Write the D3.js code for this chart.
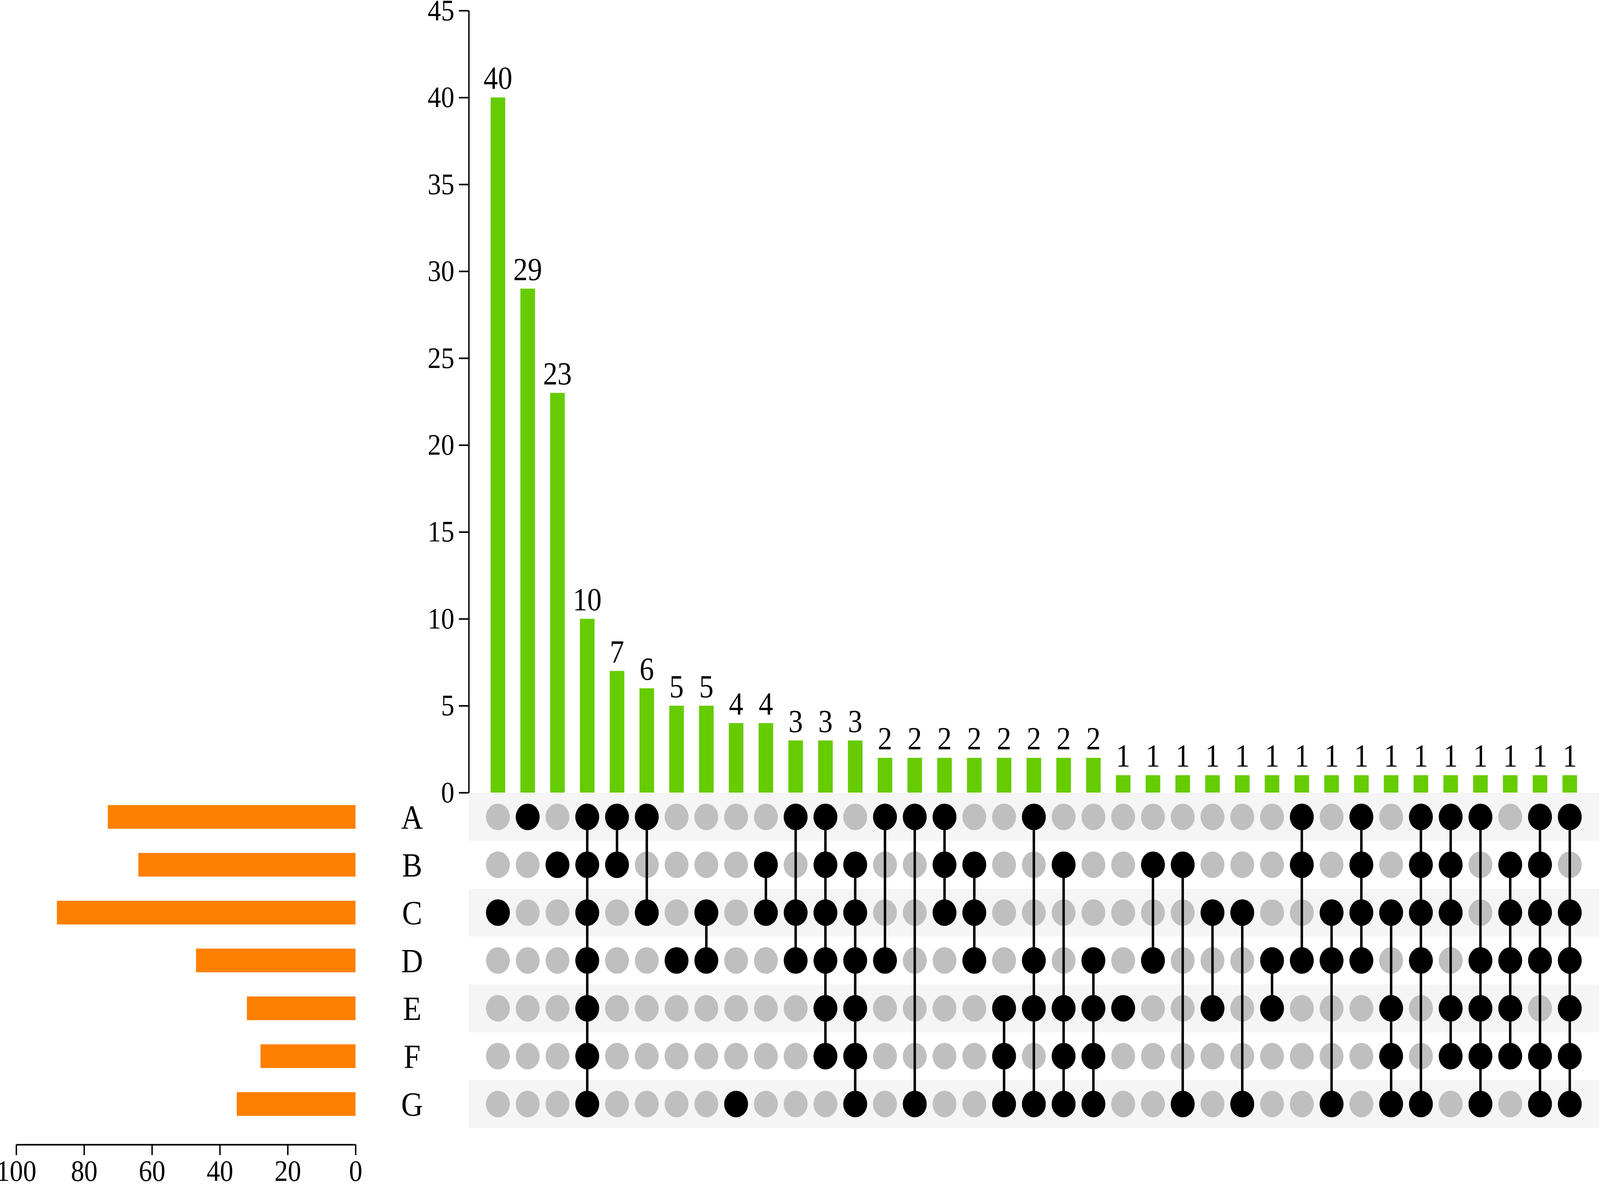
<!DOCTYPE html>
<html>
<head>
<meta charset="utf-8">
<script src="https://cdn.jsdelivr.net/npm/d3@7"></script>
<style>
  html, body { margin: 0; padding: 0; background: #fff; overflow: hidden; }
  svg { display: block; width: 100vw; height: 100vh; }
  text { font-family: "Liberation Serif", "Times New Roman", serif; fill: #000; }
</style>
</head>
<body>
<svg viewBox="0 0 4550 3031" preserveAspectRatio="none"></svg>
<script>
var svg = d3.select("svg");

// set names and their sizes (left bars)
var sets = ["A", "B", "C", "D", "E", "F", "G"];
var setSizes = [73, 64, 88, 47, 32, 28, 35];

// intersection sizes (top bars), left to right
var counts = [40, 29, 23, 10, 7, 6, 5, 5, 4, 4, 3, 3, 3,
              2, 2, 2, 2, 2, 2, 2, 2,
              1, 1, 1, 1, 1, 1, 1, 1, 1, 1, 1, 1, 1, 1, 1, 1];

// which sets take part in each intersection
var members = ["C", "A", "B", "ABCDEFG", "AB", "AC", "D", "CD", "G", "BC", "ACD", "ABCDEF", "BCDEFG",
               "AD", "AG", "ABC", "BCD", "EFG", "ADEG", "BEFG", "DEFG",
               "E", "BD", "BG", "CE", "CG", "DE", "ABD", "CDG", "ABCD", "CEFG", "ABCDG", "ABCEF",
               "ADEFG", "BCDEF", "ABCDFG", "ACDEFG"];

var yTicks = [0, 5, 10, 15, 20, 25, 30, 35, 40, 45];
var sizeTicks = [0, 20, 40, 60, 80, 100];

var green = "#66cc00";
var orange = "#ff7f00";
var dotOff = "#bfbfbf";
var stripe = "#f5f5f5";

var cols = d3.range(counts.length);

var x = d3.scaleBand()
    .domain(cols)
    .range([1333, 4547])
    .paddingInner(0)
    .paddingOuter(0.48);

var rowY = d3.scaleBand()
    .domain(sets)
    .range([2030, 2887.5]);

var y = d3.scaleLinear()
    .domain([0, 45])
    .range([2029, 27]);

var sx = d3.scaleLinear()
    .domain([0, 100])
    .range([1011, 46]);

function cx(i) { return x(i) + x.bandwidth() / 2; }
function cy(s) { return rowY(s) + rowY.bandwidth() / 2; }

// matrix background stripes
svg.append("g")
   .selectAll("rect")
   .data(sets.filter(function(s, i) { return i % 2 == 0; }))
   .enter()
   .append("rect")
   .attr("x", 1333)
   .attr("y", function(d) { return rowY(d); })
   .attr("width", 4547 - 1333)
   .attr("height", rowY.bandwidth())
   .attr("fill", stripe);

// intersection bars
var barW = x.bandwidth() * 0.49;
svg.append("g")
   .selectAll("rect")
   .data(cols)
   .enter()
   .append("rect")
   .attr("x", function(i) { return cx(i) - barW / 2; })
   .attr("y", function(i) { return y(counts[i]); })
   .attr("width", barW)
   .attr("height", function(i) { return y(0) - y(counts[i]); })
   .attr("fill", green);

svg.append("g")
   .selectAll("text")
   .data(cols)
   .enter()
   .append("text")
   .attr("x", function(i) { return cx(i); })
   .attr("y", function(i) { return y(counts[i]) - 22; })
   .attr("text-anchor", "middle")
   .style("font-size", "82px")
   .text(function(i) { return counts[i]; });

// y axis
var yAxis = svg.append("g")
   .attr("transform", "translate(1333,0)")
   .call(d3.axisLeft(y).tickValues(yTicks).tickSize(28).tickSizeOuter(0).tickPadding(13));
yAxis.selectAll("path, line").attr("stroke-width", 4);
yAxis.selectAll("text").style("font-size", "76px").style("font-family", "Liberation Serif, serif");

// dots: empty ones first, then connecting lines, then filled ones
var cells = [];
cols.forEach(function(i) {
    sets.forEach(function(s) {
        cells.push({col: i, set: s, on: members[i].indexOf(s) >= 0});
    });
});

svg.append("g")
   .selectAll("circle")
   .data(cells.filter(function(d) { return !d.on; }))
   .enter()
   .append("circle")
   .attr("cx", function(d) { return cx(d.col); })
   .attr("cy", function(d) { return cy(d.set); })
   .attr("r", 34)
   .attr("fill", dotOff);

svg.append("g")
   .selectAll("line")
   .data(cols.filter(function(i) { return members[i].length > 1; }))
   .enter()
   .append("line")
   .attr("x1", function(i) { return cx(i); })
   .attr("x2", function(i) { return cx(i); })
   .attr("y1", function(i) { return cy(members[i][0]); })
   .attr("y2", function(i) { return cy(members[i][members[i].length - 1]); })
   .attr("stroke", "#000")
   .attr("stroke-width", 7);

svg.append("g")
   .selectAll("circle")
   .data(cells.filter(function(d) { return d.on; }))
   .enter()
   .append("circle")
   .attr("cx", function(d) { return cx(d.col); })
   .attr("cy", function(d) { return cy(d.set); })
   .attr("r", 34)
   .attr("fill", "#000");

// set labels
svg.append("g")
   .selectAll("text")
   .data(sets)
   .enter()
   .append("text")
   .attr("x", 1172)
   .attr("y", function(d) { return cy(d); })
   .attr("dy", "0.35em")
   .attr("text-anchor", "middle")
   .style("font-size", "86px")
   .text(function(d) { return d; });

// set size bars
var setH = rowY.bandwidth() * 0.495;
svg.append("g")
   .selectAll("rect")
   .data(sets)
   .enter()
   .append("rect")
   .attr("x", function(d, i) { return sx(setSizes[i]); })
   .attr("y", function(d) { return cy(d) - setH / 2; })
   .attr("width", function(d, i) { return sx(0) - sx(setSizes[i]); })
   .attr("height", setH)
   .attr("fill", orange);

var sAxis = svg.append("g")
   .attr("transform", "translate(0,2930)")
   .call(d3.axisBottom(sx).tickValues(sizeTicks).tickSize(27).tickSizeOuter(0).tickPadding(12));
sAxis.selectAll("path, line").attr("stroke-width", 4);
sAxis.selectAll("text").style("font-size", "76px").style("font-family", "Liberation Serif, serif");
</script>
</body>
</html>
